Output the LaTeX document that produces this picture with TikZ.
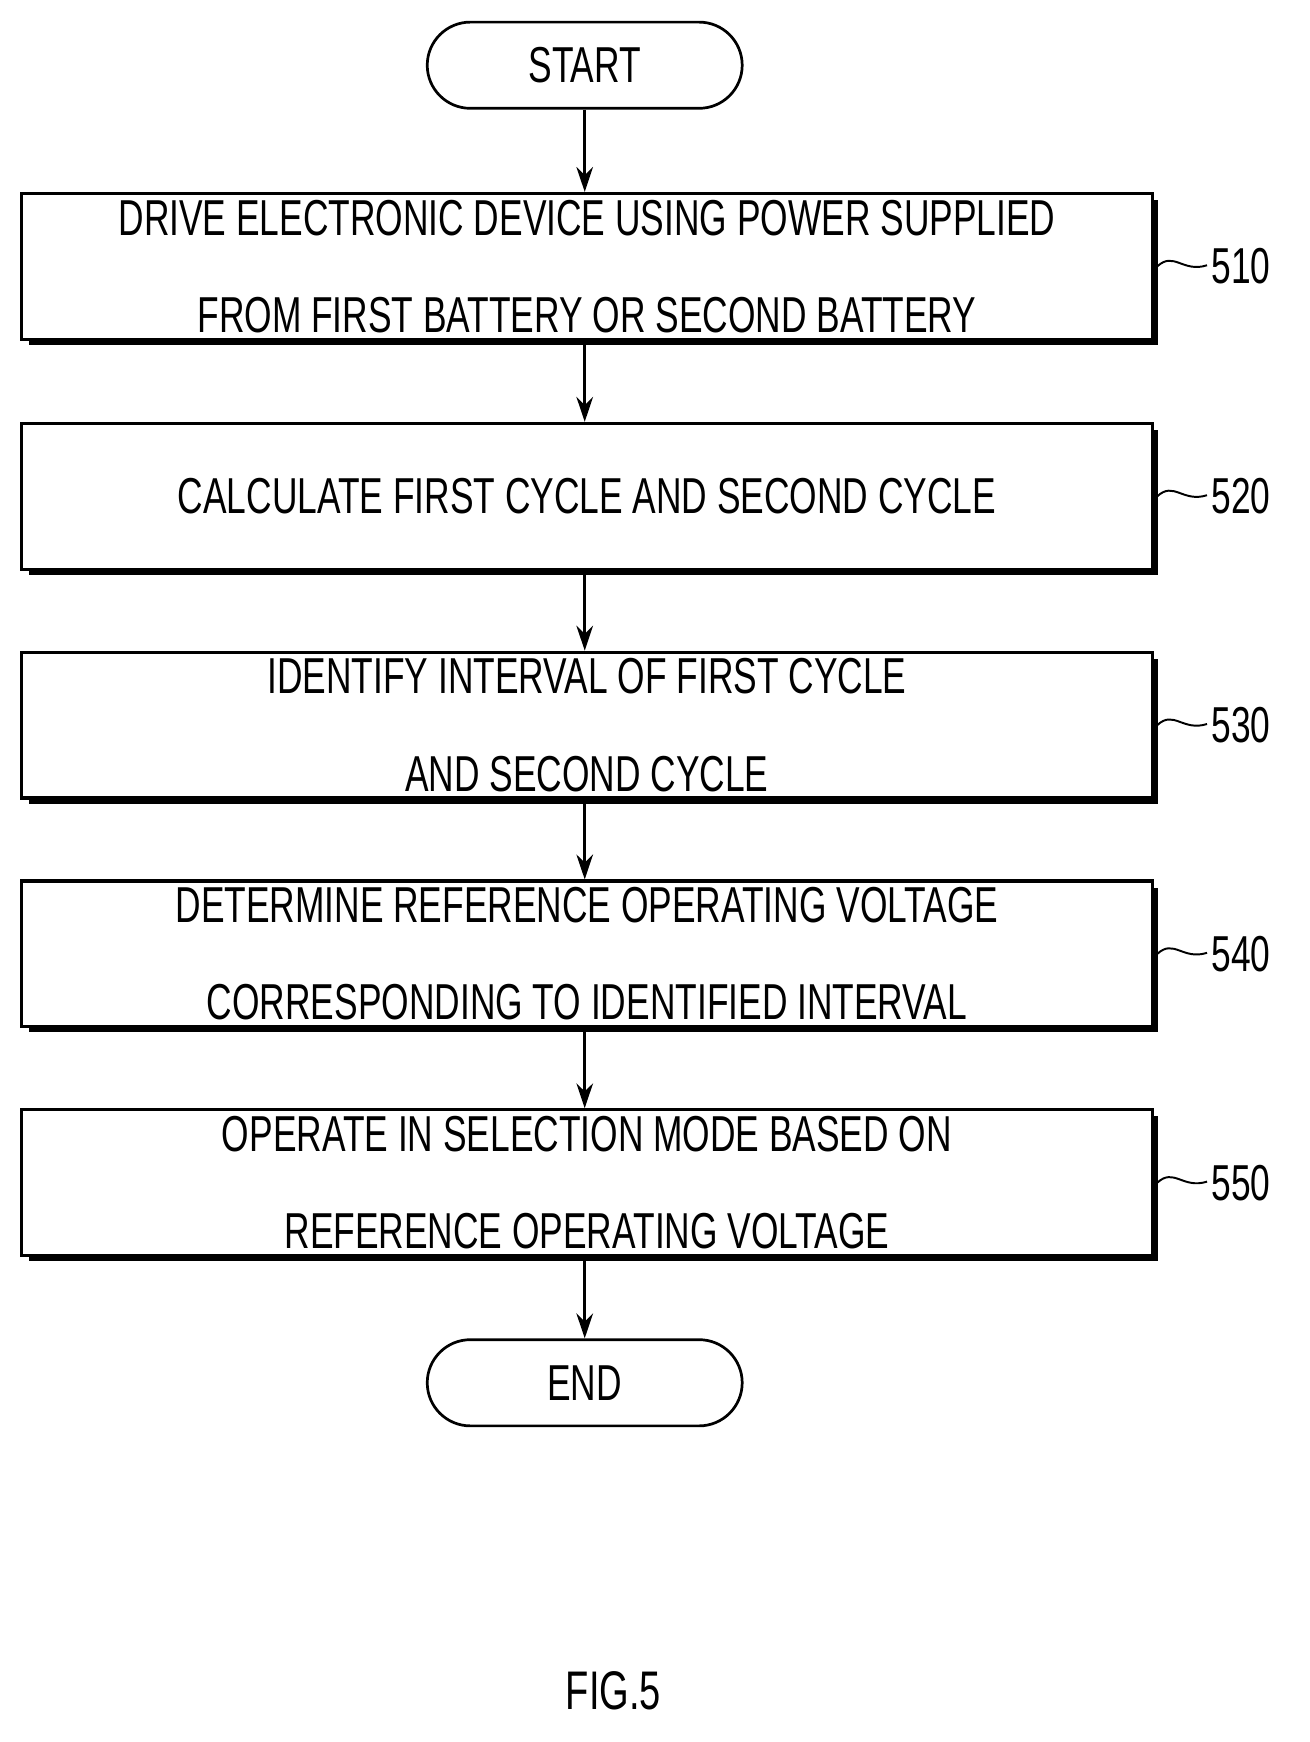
\documentclass[tikz,border=0pt]{standalone}
\usepackage{fontspec}
\usetikzlibrary{arrows.meta}
\setmainfont[FakeStretch=0.7]{Liberation Sans}
\tikzset{
  proc/.style={draw, line width=1.6pt, minimum width=20.46cm, minimum height=2.64cm,
    align=center, font=\fontsize{26}{50}\selectfont, fill=white},
  term/.style={draw, line width=1.4pt, rounded corners=0.78cm, minimum width=5.7cm,
    minimum height=1.56cm, font=\fontsize{26}{30}\selectfont},
  flow/.style={->, line width=1.4pt, >={Stealth[length=0.45cm,width=0.3cm]}},
  tag/.style={font=\fontsize{26}{30}\selectfont, anchor=west}
}
\begin{document}
\begin{tikzpicture}[x=0.02cm, y=-0.02cm]
\useasboundingbox (0,0) rectangle (1185,1576);
\node[term] (start) at (529,59) {START};
\node[term] (end) at (529,1251) {END};

\foreach \name/\y/\num in {s510/241/510, s520/449/520, s530/656/530, s540/863/540, s550/1070/550}{
  \fill (26,\y-60) rectangle (1048,\y+71);
  \draw[line width=1pt] (1047,\y) .. controls (1062,\y-14) and (1070,\y+6) .. (1092,\y-1);
  \node[tag] (\name-tag) at (1090,\y) {\num};
}
\node[proc] (s510) at (531,241) {DRIVE ELECTRONIC DEVICE USING POWER SUPPLIED\\FROM FIRST BATTERY OR SECOND BATTERY};
\node[proc] (s520) at (531,449) {CALCULATE FIRST CYCLE AND SECOND CYCLE};
\node[proc] (s530) at (531,656) {IDENTIFY INTERVAL OF FIRST CYCLE\\AND SECOND CYCLE};
\node[proc] (s540) at (531,863) {DETERMINE REFERENCE OPERATING VOLTAGE\\CORRESPONDING TO IDENTIFIED INTERVAL};
\node[proc] (s550) at (531,1070) {OPERATE IN SELECTION MODE BASED ON\\REFERENCE OPERATING VOLTAGE};

\draw[flow] (start) -- (start |- s510.north);
\draw[flow] (s510.south -| start) -- (start |- s520.north);
\draw[flow] (s520.south -| start) -- (start |- s530.north);
\draw[flow] (s530.south -| start) -- (start |- s540.north);
\draw[flow] (s540.south -| start) -- (start |- s550.north);
\draw[flow] (s550.south -| start) -- (end);

\node[font=\fontsize{28}{30}\selectfont] (fig) at (555,1530) {FIG.5};
\end{tikzpicture}
\end{document}
